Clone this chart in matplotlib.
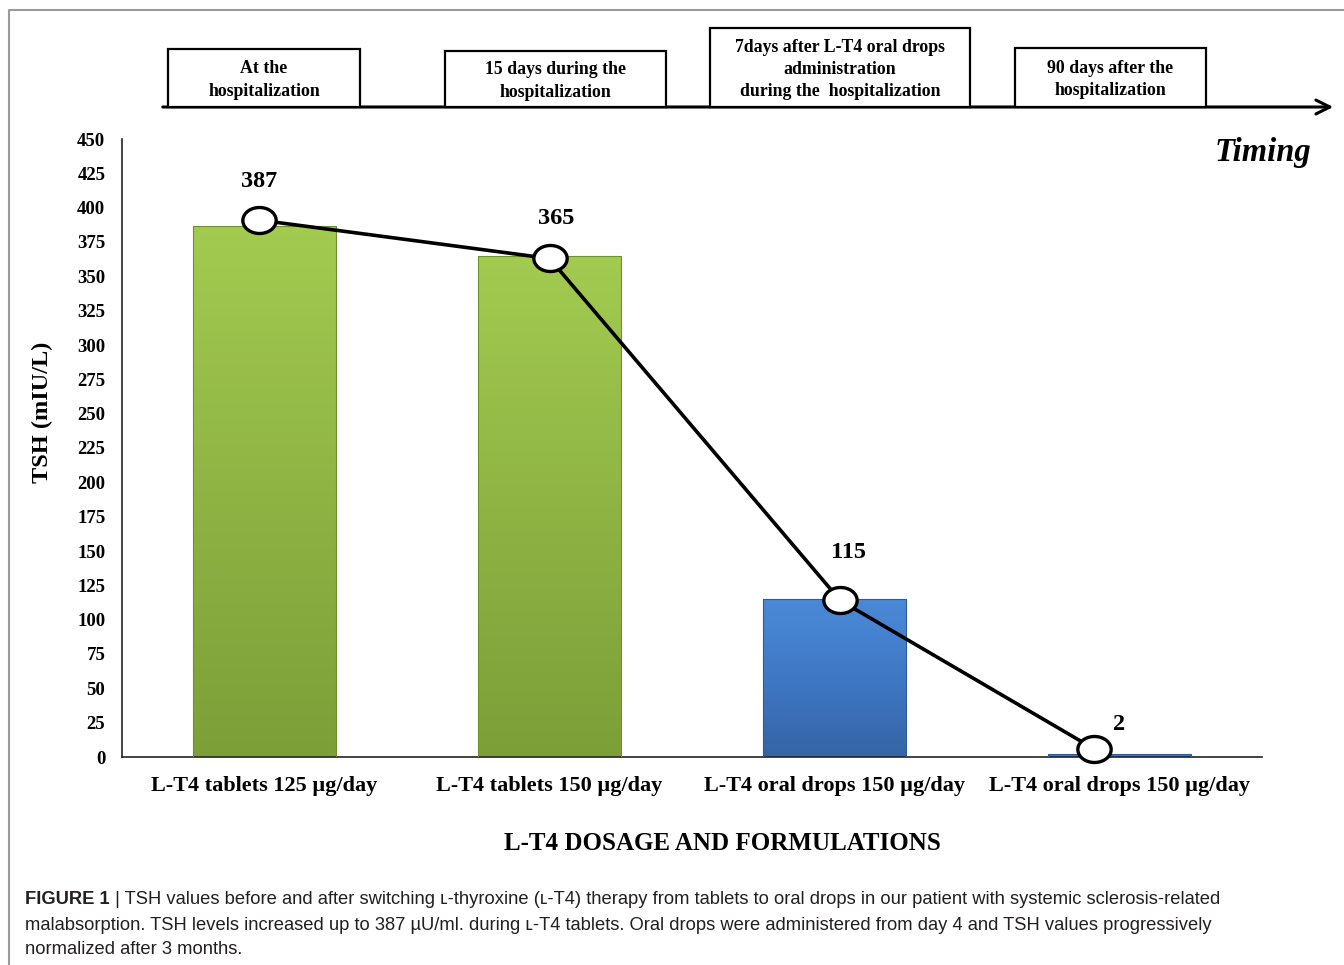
import numpy as np
import matplotlib
matplotlib.use("Agg")
import matplotlib.pyplot as plt
from matplotlib.path import Path
from matplotlib.colors import LinearSegmentedColormap
from matplotlib.patches import Rectangle

# ---------------- data ----------------
categories = ["L-T4 tablets 125 \u00b5g/day", "L-T4 tablets 150 \u00b5g/day",
              "L-T4 oral drops 150 \u00b5g/day", "L-T4 oral drops 150 \u00b5g/day"]
tsh_values = [387, 365, 115, 2]
line_x = [-0.02, 1.0, 2.02, 2.91]
line_values = [391, 363, 114, 6]
value_labels = ["387", "365", "115", "2"]
bar_kinds = ["tablets", "tablets", "drops", "drops"]
timing_labels = ["At the\nhospitalization", "15 days during the\nhospitalization",
                 "7days after L-T4 oral drops\nadministration\nduring the  hospitalization",
                 "90 days after the\nhospitalization"]
y_ticks = list(range(0, 451, 25))

caption_bold = "FIGURE 1"
caption_lines = [
    " | TSH values before and after switching \u029f-thyroxine (\u029f-T4) therapy from tablets to oral drops in our patient with systemic sclerosis-related",
    "malabsorption. TSH levels increased up to 387 \u00b5U/ml. during \u029f-T4 tablets. Oral drops were administered from day 4 and TSH values progressively",
    "normalized after 3 months.",
]

# ---------------- style ----------------
W, H = 1344, 965
fig = plt.figure(figsize=(W / 100, H / 100), dpi=100)
serif = ["Liberation Serif", "DejaVu Serif"]
cap_font = ["Liberation Sans", "DejaVu Sans"]

grad = {
    "tablets": LinearSegmentedColormap.from_list("g", ["#7c9f38", "#8fb444", "#a3cb50"]),
    "drops": LinearSegmentedColormap.from_list("b", ["#3664a6", "#3f78c4", "#4b8ad8"]),
}
edge = {"tablets": "#6f9030", "drops": "#2f5a98"}

ax = fig.add_axes([122 / W, 1 - 757 / H, (1262 - 122) / W, (757 - 139) / H])
x = np.arange(len(categories))
bars = ax.bar(x, tsh_values, width=0.505, color="none", edgecolor="none", zorder=2)
for b, kind in zip(bars, bar_kinds):
    bx, by, bw, bh = b.get_x(), b.get_y(), b.get_width(), b.get_height()
    g = np.linspace(0, 1, 256).reshape(-1, 1)
    im = ax.imshow(g, extent=[bx, bx + bw, by, by + bh], origin="lower",
                   cmap=grad[kind], aspect="auto", zorder=2)
    rect = Rectangle((bx, by), bw, bh, transform=ax.transData, facecolor="none",
                     edgecolor=edge[kind], linewidth=0.8, zorder=3)
    ax.add_patch(rect)
    im.set_clip_path(rect)

# ellipse marker
t = np.linspace(0, 2 * np.pi, 64)
ell = Path(np.column_stack([np.cos(t), 0.78 * np.sin(t)]), closed=True)
ax.plot(line_x, line_values, color="black", linewidth=2.6, marker=ell, markersize=24,
        markerfacecolor="white", markeredgecolor="black", markeredgewidth=2.4,
        zorder=5, clip_on=False)

label_offsets = [(0, 20), (5, 21), (6, 27), (18, 10)]
for xi, v, lab, off in zip(line_x, line_values, value_labels, label_offsets):
    ax.annotate(lab, (xi, v), xytext=off, textcoords="offset points",
                ha="center", va="bottom", fontsize=17.5, fontweight="bold",
                family=serif, zorder=6)

ax.set_xlim(-0.5, 3.5)
ax.set_ylim(0, 450)
ax.set_yticks(y_ticks)
ax.set_xticks(x)
ax.set_xticklabels(categories, fontsize=16, fontweight="bold", family=serif)
for lab in ax.get_yticklabels():
    lab.set_fontsize(13.5)
    lab.set_fontweight("bold")
    lab.set_family(serif)
ax.tick_params(axis="both", length=0)
ax.tick_params(axis="x", pad=14)
ax.tick_params(axis="y", pad=12)
for s in ["top", "right"]:
    ax.spines[s].set_visible(False)
for s in ["left", "bottom"]:
    ax.spines[s].set_color("#222222")
    ax.spines[s].set_linewidth(1.2)
ax.set_ylabel("TSH (mIU/L)", fontsize=17.5, fontweight="bold", family=serif)
ax.yaxis.set_label_coords((42 - 122) / (1262 - 122), (757 - 412) / (757 - 139))
ax.set_xlabel("L-T4 DOSAGE AND FORMULATIONS", fontsize=18, fontweight="bold",
              family=serif)
ax.xaxis.set_label_coords((722 - 122) / (1262 - 122), -(843 - 757) / (757 - 139))
ax.xaxis.label.set_va("center")
ax.yaxis.label.set_va("center")

# ---------------- overlay: timeline, frame, caption ----------------
ov = fig.add_axes([0, 0, 1, 1], zorder=10)
ov.set_xlim(0, W)
ov.set_ylim(H, 0)
ov.axis("off")
ov.patch.set_alpha(0)

# figure frame
ov.plot([9, 9, W], [H, 10, 10], color="#9a9a9a", linewidth=1.5)

# timeline arrow
ov.annotate("", xy=(1336, 107), xytext=(160, 107),
            arrowprops=dict(arrowstyle="->,head_length=1.0,head_width=0.5",
                            color="black", lw=2.2))
boxes = [(168, 360, 49), (445, 666, 51), (710, 970, 28), (1015, 1206, 48)]
for (x0, x1, y0), lab in zip(boxes, timing_labels):
    ov.add_patch(Rectangle((x0, y0), x1 - x0, 107 - y0, facecolor="white",
                           edgecolor="black", linewidth=1.6, zorder=3))
    ov.text((x0 + x1) / 2, (y0 + 107) / 2 + 2, lab, ha="center", va="center",
            fontsize=12.8, fontweight="bold", family=serif, linespacing=1.42, zorder=4)

ov.text(1263, 153, "Timing", ha="center", va="center", fontsize=23.5,
        fontweight="bold", fontstyle="italic", family=serif)

# caption
cap_size = 13.2
tb = ov.text(25, 900, caption_bold, ha="left", va="center", fontsize=cap_size,
             fontweight="bold", family=cap_font, color="#231f20")
fig.canvas.draw()
bb = tb.get_window_extent(renderer=fig.canvas.get_renderer())
x_after = bb.x1
ov.text(x_after, 900, caption_lines[0], ha="left", va="center", fontsize=cap_size,
        family=cap_font, color="#231f20")
ov.text(25, 925, caption_lines[1], ha="left", va="center", fontsize=cap_size,
        family=cap_font, color="#231f20")
ov.text(25, 949, caption_lines[2], ha="left", va="center", fontsize=cap_size,
        family=cap_font, color="#231f20")

fig.savefig("out.png", dpi=100, facecolor="white")
